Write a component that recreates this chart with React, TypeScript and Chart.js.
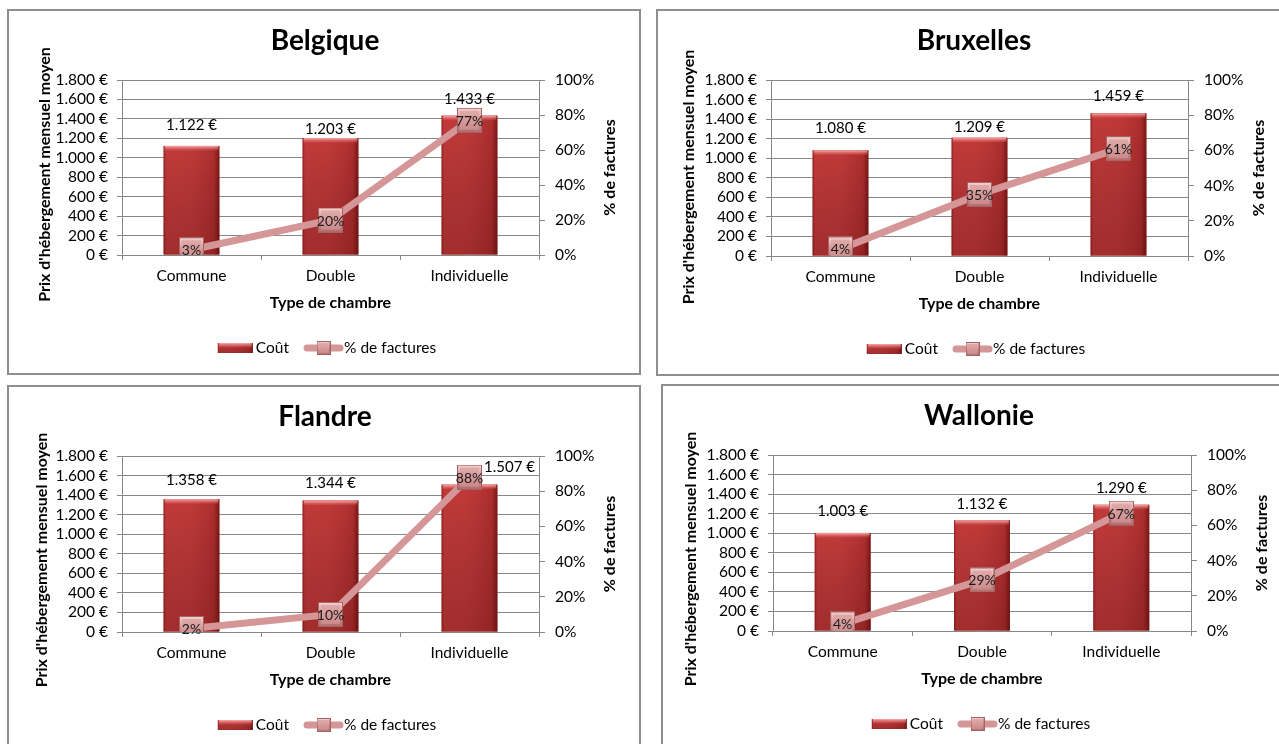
import React, { useEffect, useRef } from "react";
import { Chart, registerables } from "chart.js";

Chart.register(...registerables);

// ---- data ----
const roomTypes = ["Commune", "Double", "Individuelle"];
const seriesLabels = ["Coût", "% de factures"];
const xAxisTitle = "Type de chambre";
const yAxisTitle = "Prix d'hébergement mensuel moyen";
const y2AxisTitle = "% de factures";

const costMax = 1800;
const costStep = 200;
const pctMax = 100;
const pctStep = 20;

const belgiqueCost = [1122, 1203, 1433];
const belgiquePct = [3, 20, 77];
const bruxellesCost = [1080, 1209, 1459];
const bruxellesPct = [4, 35, 61];
const flandreCost = [1358, 1344, 1507];
const flandrePct = [2, 10, 88];
const wallonieCost = [1003, 1132, 1290];
const walloniePct = [4, 29, 67];

// ---- styling ----
const FONT = "Lato, 'Liberation Sans', sans-serif";
const GRID = "#878787";
const BAR_FILL = "#bb3434";
const LINE_COLOR = "#d49696";

type Offset = [number, number];

interface PanelDef {
  title: string;
  cost: number[];
  pct: number[];
  left: number;
  top: number;
  width: number;
  height: number;
  axisLeft: number;
  axisRight: number;
  plotHeight: number;
  yTitleX: number;
  yTitleDy: number;
  costLabelOffsets: Offset[];
}

const panels: PanelDef[] = [
  {
    title: "Belgique", cost: belgiqueCost, pct: belgiquePct,
    left: 7, top: 9, width: 634, height: 366,
    axisLeft: 113, axisRight: 100, plotHeight: 175, yTitleX: 36, yTitleDy: 7,
    costLabelOffsets: [[0, -21], [0, -9], [0, -17]],
  },
  {
    title: "Bruxelles", cost: bruxellesCost, pct: bruxellesPct,
    left: 656, top: 9, width: 634, height: 367,
    axisLeft: 113, axisRight: 100, plotHeight: 176, yTitleX: 31, yTitleDy: 9,
    costLabelOffsets: [[0, -22], [0, -11], [0, -17]],
  },
  {
    title: "Flandre", cost: flandreCost, pct: flandrePct,
    left: 7, top: 385, width: 634, height: 366,
    axisLeft: 113, axisRight: 100, plotHeight: 176, yTitleX: 33, yTitleDy: 16,
    costLabelOffsets: [[0, -19], [0, -17], [40, -17]],
  },
  {
    title: "Wallonie", cost: wallonieCost, pct: walloniePct,
    left: 661, top: 384, width: 634, height: 366,
    axisLeft: 110, axisRight: 102, plotHeight: 176, yTitleX: 28, yTitleDy: 16,
    costLabelOffsets: [[0, -22], [0, -16], [0, -17]],
  },
];

const X_AXIS_HEIGHT = 40;
const PLOT_TOP = 69;

function euro(v: number): string {
  const s = String(Math.round(v)).replace(/\B(?=(\d{3})+(?!\d))/g, ".");
  return s + "\u00a0€";
}

// bevelled square used as the line marker
function makeMarker(size: number): HTMLCanvasElement {
  const c = document.createElement("canvas");
  c.width = size;
  c.height = size;
  const g = c.getContext("2d")!;
  const outer = g.createLinearGradient(0, 0, 0, size);
  outer.addColorStop(0, "#f7d4d4");
  outer.addColorStop(0.4, "#dca0a0");
  outer.addColorStop(1, "#b06c6c");
  g.fillStyle = outer;
  g.fillRect(0, 0, size, size);
  const inset = Math.max(2, Math.round(size * 0.13));
  const inner = g.createLinearGradient(0, inset, 0, size - inset);
  inner.addColorStop(0, "#e2aaaa");
  inner.addColorStop(1, "#cb8b8b");
  g.fillStyle = inner;
  g.fillRect(inset, inset, size - 2 * inset, size - 2 * inset);
  g.strokeStyle = "#a46464";
  g.lineWidth = 1;
  g.strokeRect(0.5, 0.5, size - 1, size - 1);
  return c;
}

function shadeBar(ctx: CanvasRenderingContext2D, l: number, t: number, w: number, h: number) {
  ctx.save();
  ctx.fillStyle = BAR_FILL;
  ctx.fillRect(l, t, w, h);
  const gh = ctx.createLinearGradient(l, 0, l + w, 0);
  gh.addColorStop(0, "rgba(90,0,0,0.45)");
  gh.addColorStop(0.06, "rgba(255,110,110,0.10)");
  gh.addColorStop(0.45, "rgba(255,120,120,0.08)");
  gh.addColorStop(0.9, "rgba(80,0,0,0.12)");
  gh.addColorStop(1, "rgba(70,0,0,0.55)");
  ctx.fillStyle = gh;
  ctx.fillRect(l, t, w, h);
  const gv = ctx.createLinearGradient(0, t, 0, t + h);
  gv.addColorStop(0, "rgba(0,0,0,0)");
  gv.addColorStop(1, "rgba(50,0,0,0.22)");
  ctx.fillStyle = gv;
  ctx.fillRect(l, t, w, h);
  const bevel = Math.min(5, h);
  const gt = ctx.createLinearGradient(0, t, 0, t + bevel);
  gt.addColorStop(0, "rgba(255,175,175,0.95)");
  gt.addColorStop(1, "rgba(235,120,120,0)");
  ctx.fillStyle = gt;
  ctx.fillRect(l + 1, t, w - 2, bevel);
  ctx.restore();
}

const decorPlugin = {
  id: "panelDecor",
  afterDatasetDraw(chart: any, args: any) {
    if (args.meta.type !== "bar") return;
    const ctx = chart.ctx as CanvasRenderingContext2D;
    args.meta.data.forEach((el: any) => {
      const { x, y, base, width } = el.getProps(["x", "y", "base", "width"], true);
      shadeBar(ctx, x - width / 2, y, width, base - y);
    });
  },
  afterDraw(chart: any, _args: any, opts: any) {
    const ctx = chart.ctx as CanvasRenderingContext2D;
    const area = chart.chartArea;
    const cx = (area.left + area.right) / 2;
    const cy = (area.top + area.bottom) / 2;
    ctx.save();
    ctx.fillStyle = "#000";
    ctx.textAlign = "center";
    ctx.textBaseline = "middle";

    // chart title
    ctx.font = `bold 28px ${FONT}`;
    ctx.fillText(opts.title, chart.width / 2 + 1, area.top - 39);

    // axis titles
    ctx.font = `bold 16px ${FONT}`;
    ctx.fillText(xAxisTitle, cx, area.bottom + 48);
    ctx.save();
    ctx.translate(opts.yTitleX, cy + opts.yTitleDy);
    ctx.rotate(-Math.PI / 2);
    ctx.fillText(yAxisTitle, 0, 0);
    ctx.restore();
    ctx.save();
    ctx.translate(area.right + 71, cy);
    ctx.rotate(-Math.PI / 2);
    ctx.fillText(y2AxisTitle, 0, 0);
    ctx.restore();

    // value labels on bars
    const barMeta = chart.getDatasetMeta(0);
    ctx.font = `15px ${FONT}`;
    barMeta.data.forEach((el: any, i: number) => {
      const off: Offset = opts.costLabelOffsets[i] || [0, -17];
      const v = chart.data.datasets[0].data[i] as number;
      ctx.fillText(euro(v), el.x + off[0], el.y + off[1]);
    });

    // value labels on line markers
    const lineMeta = chart.getDatasetMeta(1);
    ctx.font = `14px ${FONT}`;
    ctx.fillStyle = "#1a1a1a";
    lineMeta.data.forEach((el: any, i: number) => {
      const v = chart.data.datasets[1].data[i] as number;
      ctx.fillText(`${v}%`, el.x, el.y + 1);
    });

    // legend
    const ly = area.bottom + 93;
    ctx.font = `15.5px ${FONT}`;
    ctx.fillStyle = "#000";
    ctx.textAlign = "left";
    const t1 = chart.data.datasets[0].label as string;
    const t2 = chart.data.datasets[1].label as string;
    const w1 = ctx.measureText(t1).width;
    const w2 = ctx.measureText(t2).width;
    const barW = 35, lineW = 39;
    const total = barW + 3 + w1 + 15 + lineW + 1 + w2;
    let lx = chart.width / 2 + 3 - total / 2;
    shadeBar(ctx, lx, ly - 5, barW, 10);
    lx += barW + 3;
    ctx.fillText(t1, lx, ly);
    lx += w1 + 15;
    ctx.strokeStyle = LINE_COLOR;
    ctx.lineWidth = 7;
    ctx.lineCap = "round";
    ctx.beginPath();
    ctx.moveTo(lx + 3, ly);
    ctx.lineTo(lx + lineW - 3, ly);
    ctx.stroke();
    ctx.drawImage(opts.legendMarker, lx + lineW / 2 - 7, ly - 7, 14, 14);
    lx += lineW + 1;
    ctx.fillText(t2, lx, ly);
    ctx.restore();
  },
};

function RegionChart({ def }: { def: PanelDef }) {
  const ref = useRef<HTMLCanvasElement | null>(null);
  const cw = def.width - 4;
  const ch = def.height - 4;

  useEffect(() => {
    if (!ref.current) return;
    const marker = makeMarker(25);
    const legendMarker = makeMarker(14);
    const tickFont = { family: FONT, size: 15.5 };
    const bottomPad = ch - PLOT_TOP - def.plotHeight - X_AXIS_HEIGHT;
    const chart = new Chart(ref.current, {
      type: "bar",
      data: {
        labels: roomTypes,
        datasets: [
          {
            type: "bar",
            label: seriesLabels[0],
            data: def.cost,
            yAxisID: "y",
            backgroundColor: BAR_FILL,
            barPercentage: 0.4,
            categoryPercentage: 1,
            order: 1,
          },
          {
            type: "line",
            label: seriesLabels[1],
            data: def.pct,
            yAxisID: "y1",
            borderColor: LINE_COLOR,
            borderWidth: 7,
            pointStyle: marker,
            pointRadius: 12,
            tension: 0,
            order: 0,
          },
        ] as any,
      },
      options: {
        responsive: false,
        animation: false,
        events: [],
        layout: { padding: { top: PLOT_TOP, bottom: bottomPad, left: 0, right: 0 } },
        plugins: {
          legend: { display: false },
          tooltip: { enabled: false },
          title: { display: false },
          panelDecor: {
            title: def.title,
            yTitleX: def.yTitleX,
            yTitleDy: def.yTitleDy,
            costLabelOffsets: def.costLabelOffsets,
            legendMarker,
          },
        } as any,
        scales: {
          x: {
            grid: { drawOnChartArea: false, tickLength: 5, color: GRID, offset: true },
            border: { color: GRID },
            ticks: { font: { family: FONT, size: 15.5 }, color: "#000", padding: 7, autoSkip: false, maxRotation: 0 },
            afterFit: (s: any) => { s.height = X_AXIS_HEIGHT; },
          },
          y: {
            position: "left",
            min: 0,
            max: costMax,
            ticks: { stepSize: costStep, autoSkip: false, font: tickFont, color: "#000", padding: 9, callback: (v: any) => euro(Number(v)) },
            grid: { color: GRID, tickLength: 5 },
            border: { color: GRID },
            afterFit: (s: any) => { s.width = def.axisLeft; },
          },
          y1: {
            position: "right",
            min: 0,
            max: pctMax,
            ticks: { stepSize: pctStep, autoSkip: false, font: tickFont, color: "#000", padding: 10, callback: (v: any) => `${v}%` },
            grid: { drawOnChartArea: false, color: GRID, tickLength: 6 },
            border: { color: GRID },
            afterFit: (s: any) => { s.width = def.axisRight; },
          },
        } as any,
      },
      plugins: [decorPlugin as any],
    });
    return () => chart.destroy();
  }, [def, cw, ch]);

  return (
    <div
      style={{
        position: "absolute",
        left: def.left,
        top: def.top,
        width: def.width,
        height: def.height,
        border: "2px solid #8e8e8e",
        boxSizing: "border-box",
        background: "#fff",
      }}
    >
      <canvas ref={ref} width={cw} height={ch} style={{ display: "block", width: cw, height: ch }} />
    </div>
  );
}

export default function App() {
  return (
    <div
      style={{
        position: "absolute",
        left: 0,
        top: 0,
        width: 1279,
        height: 744,
        overflow: "hidden",
        background: "#fff",
      }}
    >
      {panels.map((p) => (
        <RegionChart key={p.title} def={p} />
      ))}
    </div>
  );
}
